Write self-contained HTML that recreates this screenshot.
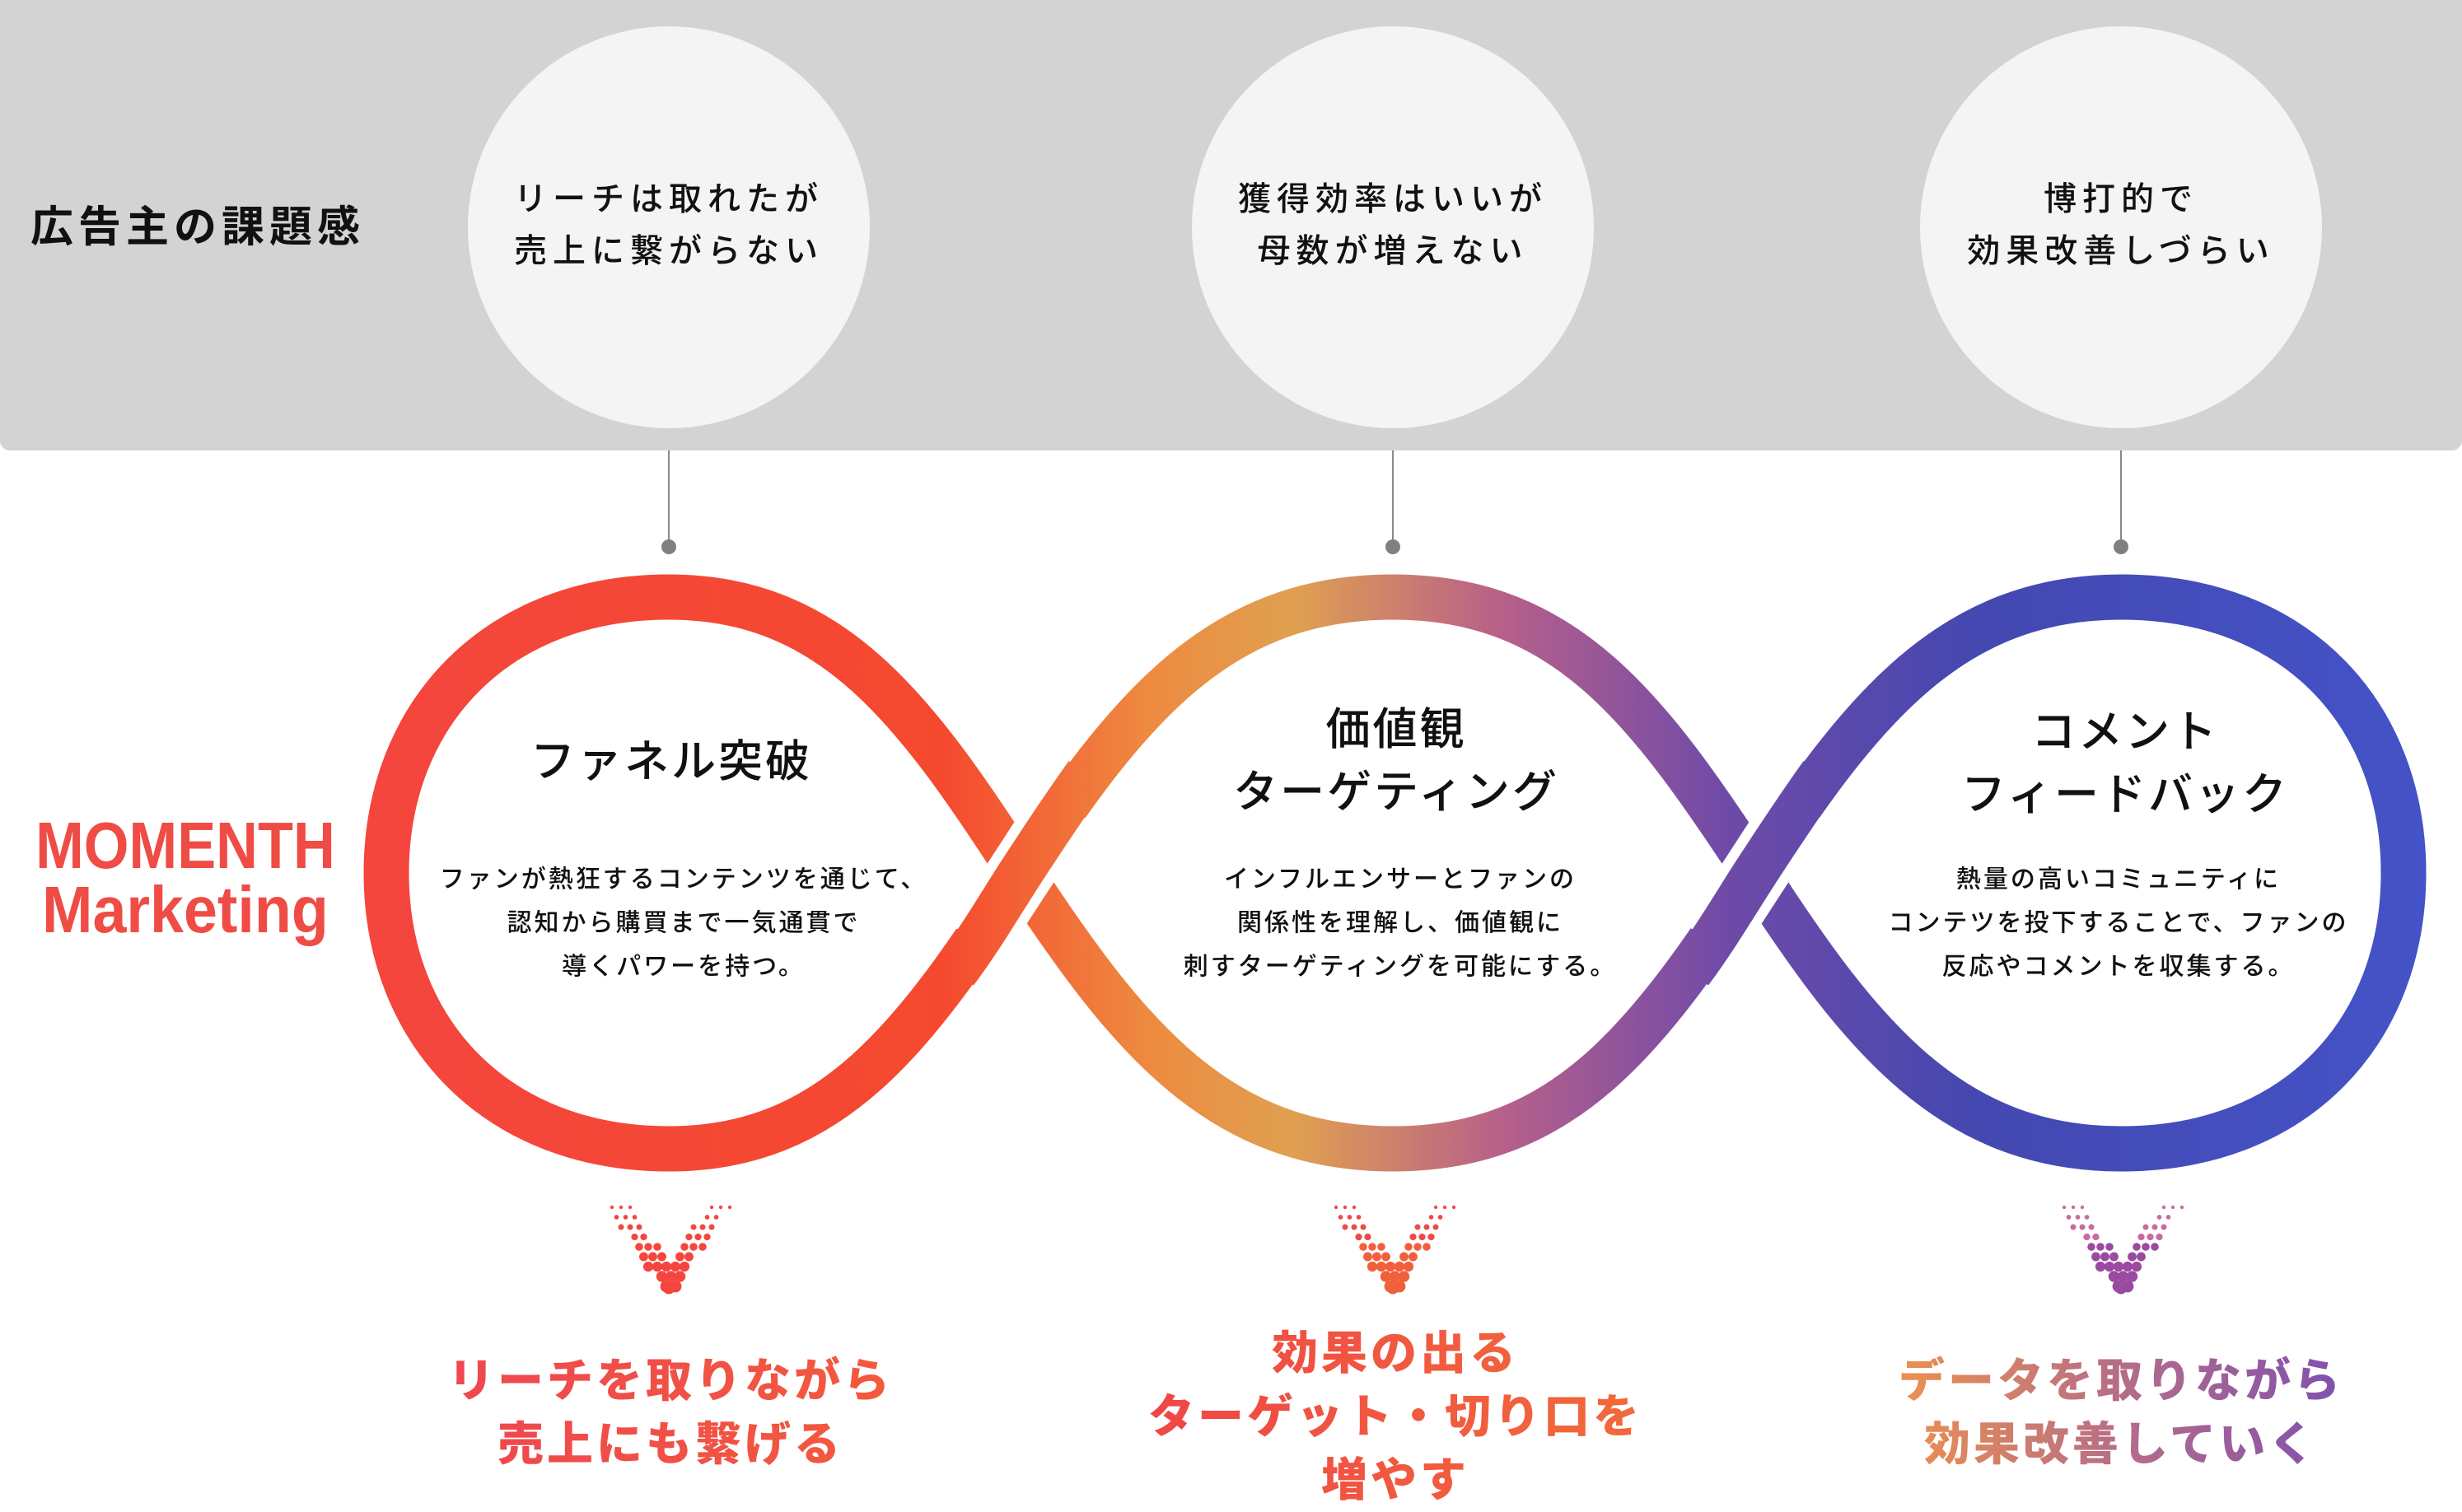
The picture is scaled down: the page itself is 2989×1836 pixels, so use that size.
<!DOCTYPE html>
<html><head><meta charset="utf-8">
<style>
html,body{margin:0;padding:0;background:#fff;}
body{width:2989px;height:1828px;position:relative;overflow:hidden;font-family:"Liberation Sans","Noto Sans CJK JP",sans-serif;}
.t{position:absolute;transform:translate(-50%,-50%);white-space:nowrap;text-align:center;font-family:"Liberation Sans","Noto Sans CJK JP",sans-serif;color:#111;}
.panel{position:absolute;left:0;top:0;width:2989px;height:547px;background:#d3d3d3;border-radius:0 0 12px 12px;}
.circ{position:absolute;width:488px;height:488px;border-radius:50%;background:#f4f4f4;}
.ct{font-size:40px;font-weight:500;letter-spacing:7px;line-height:63px;}
.ti{font-size:54px;font-weight:500;letter-spacing:3px;line-height:76px;}
.bd{font-size:30px;font-weight:500;letter-spacing:3px;line-height:53px;}
.bt{font-size:56px;font-weight:900;letter-spacing:4px;line-height:77px;-webkit-background-clip:text;background-clip:text;color:transparent;}
</style></head><body>
<div class="panel"></div>
<div class="t" style="left:240px;top:271px;font-size:52px;font-weight:700;letter-spacing:6px;">広告主の課題感</div>
<div class="circ" style="left:568px;top:32px;"></div>
<div class="circ" style="left:1447px;top:32px;"></div>
<div class="circ" style="left:2331px;top:32px;"></div>
<div class="t ct" style="left:812px;top:274px;">リーチは取れたが<br>売上に繋がらない</div>
<div class="t ct" style="left:1691px;top:274px;">獲得効率はいいが<br>母数が増えない</div>
<div class="t ct" style="left:2575px;top:274px;">博打的で<br>効果改善しづらい</div>

<svg width="2989" height="1828" style="position:absolute;left:0;top:0;" xmlns="http://www.w3.org/2000/svg">
<defs>
<linearGradient id="g" gradientUnits="userSpaceOnUse" x1="440" y1="0" x2="2950" y2="0">
<stop offset="0" stop-color="#f4463e"/>
<stop offset="0.28" stop-color="#f5492f"/>
<stop offset="0.38" stop-color="#ee8a40"/>
<stop offset="0.45" stop-color="#e0a050"/>
<stop offset="0.55" stop-color="#b8608a"/>
<stop offset="0.66" stop-color="#6f4aa8"/>
<stop offset="0.78" stop-color="#4448b0"/>
<stop offset="1" stop-color="#4453c8"/>
</linearGradient>
</defs>
<g stroke="#8a8a8a" stroke-width="2"><line x1="812" y1="547" x2="812" y2="660"/><line x1="1691" y1="547" x2="1691" y2="660"/><line x1="2575" y1="547" x2="2575" y2="660"/></g>
<g fill="#808080"><circle cx="812" cy="664" r="9"/><circle cx="1691" cy="664" r="9"/><circle cx="2575" cy="664" r="9"/></g>
<path fill="none" stroke="url(#g)" stroke-width="55" d="M1239,1060 C1110,860 1010,725 812,725 C600,725 469,870 469,1060 C469,1250 600,1395 812,1395 C1010,1395 1110,1260 1239,1060 C1370,860 1480,725 1691,725 C1900,725 2000,860 2131,1060 C2260,1260 2370,1395 2575,1395 C2790,1395 2918,1250 2918,1060 C2918,870 2790,725 2575,725 C2370,725 2260,860 2131,1060 C2000,1260 1900,1395 1691,1395 C1480,1395 1370,1260 1239,1060Z"/>
<path fill="none" stroke="#fff" stroke-width="80" d="M1185,1143 L1293,977"/>
<path fill="none" stroke="url(#g)" stroke-width="55" d="M1160,1180 C1190,1140 1215,1097 1239,1060 C1265,1020 1290,982 1320,940"/>
<path fill="none" stroke="#fff" stroke-width="80" d="M2077,1143 L2185,977"/>
<path fill="none" stroke="url(#g)" stroke-width="55" d="M2052,1180 C2082,1140 2107,1097 2131,1060 C2157,1020 2182,982 2212,940"/>
<g id="chev"></g>
</svg>

<div class="t" style="left:225px;top:1066px;font-weight:700;color:#ef4c45;font-size:80px;line-height:78px;">
<div style="transform:scaleX(0.88);">MOMENTH</div>
<div style="transform:scaleX(0.92);">Marketing</div>
</div>

<div class="t ti" style="left:815px;top:925px;">ファネル突破</div>
<div class="t bd" style="left:830px;top:1121px;">ファンが熱狂するコンテンツを通じて、<br>認知から購買まで一気通貫で<br>導くパワーを持つ。</div>

<div class="t ti" style="left:1695px;top:924px;">価値観<br>ターゲティング</div>
<div class="t bd" style="left:1700px;top:1121px;">インフルエンサーとファンの<br>関係性を理解し、価値観に<br>刺すターゲティングを可能にする。</div>

<div class="t ti" style="left:2580px;top:927px;">コメント<br>フィードバック</div>
<div class="t bd" style="left:2572px;top:1121px;">熱量の高いコミュニティに<br>コンテツを投下することで、ファンの<br>反応やコメントを収集する。</div>

<div class="t bt" style="left:814px;top:1715px;background-image:linear-gradient(90deg,#f04650,#f25a3c);">リーチを取りながら<br>売上にも繋げる</div>
<div class="t bt" style="left:1694px;top:1720px;background-image:linear-gradient(90deg,#f04646,#f26a3a);">効果の出る<br>ターゲット・切り口を<br>増やす</div>
<div class="t bt" style="left:2575px;top:1715px;background-image:linear-gradient(90deg,#ec9050,#b06a8c 55%,#8050b0);">データを取りながら<br>効果改善していく</div>

<script>
(function(){
var g=document.getElementById('chev');var ns='http://www.w3.org/2000/svg';
var sets=[[812,'#f4463e','#f4463e'],[1691,'#ee4a46','#f0603c'],[2575,'#c96aa0','#9a4aa0']];
sets.forEach(function(s){
 for(var j=0;j<9;j++){
  var y=1466+j*12;var r=2.2+j*0.65;
  var outer=76-j*8.5, inner=outer-30;
  for(var x=-80;x<=80;x+=11){
   var xx=x+(j%2?5.5:0);
   if(Math.abs(xx)<=outer && Math.abs(xx)>=inner){
    var c=document.createElementNS(ns,'circle');
    c.setAttribute('cx',s[0]+xx);c.setAttribute('cy',y);c.setAttribute('r',r);
    c.setAttribute('fill',j<4?s[1]:s[2]);g.appendChild(c);
   }
  }
 }
 var c=document.createElementNS(ns,'circle');c.setAttribute('cx',s[0]);c.setAttribute('cy',1564);c.setAttribute('r',7.5);c.setAttribute('fill',s[2]);g.appendChild(c);
});
})();
</script>
</body></html>
